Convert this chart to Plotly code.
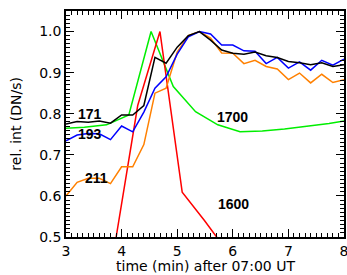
import plotly.graph_objects as go

# 12 s cadence (EUV) times, minutes after 07:00 UT
t_euv = [3.0 + 0.2 * k for k in range(26)]
v171 = [0.775, 0.781, 0.779, 0.782, 0.777, 0.797, 0.797, 0.820, 0.937, 0.923,
        0.962, 0.990, 1.000, 0.979, 0.955, 0.947, 0.945, 0.950, 0.941, 0.937,
        0.927, 0.924, 0.919, 0.924, 0.915, 0.919]
v193 = [0.734, 0.748, 0.752, 0.751, 0.737, 0.770, 0.756, 0.804, 0.862, 0.890,
        0.945, 0.987, 1.000, 0.994, 0.967, 0.967, 0.953, 0.952, 0.922, 0.937,
        0.911, 0.926, 0.906, 0.930, 0.918, 0.933]
v211 = [0.600, 0.633, 0.643, 0.643, 0.630, 0.671, 0.671, 0.725, 0.850, 0.862,
        0.950, 0.990, 1.000, 0.984, 0.948, 0.947, 0.922, 0.930, 0.915, 0.909,
        0.883, 0.899, 0.875, 0.896, 0.876, 0.883]

# 24 s cadence (UV) times
t1700 = [2.93, 3.33, 3.73, 4.13, 4.53, 4.93, 5.33, 5.73, 6.13, 6.53, 6.93, 7.33, 7.73, 8.13]
v1700 = [0.764, 0.767, 0.773, 0.797, 1.000, 0.866, 0.805, 0.773, 0.756, 0.758,
         0.763, 0.769, 0.776, 0.785]
t1600 = [3.89, 4.29, 4.69, 5.09, 5.49, 5.89]
v1600 = [0.490, 0.820, 1.000, 0.609, 0.540, 0.467]

labels = ["171", "193", "211", "1700", "1600"]
label_x = [3.43, 3.43, 3.54, 5.99, 6.01]
label_y = [0.799, 0.751, 0.644, 0.791, 0.581]

x_title = "time (min) after 07:00 UT"
y_title = "rel. int (DN/s)"

fig = go.Figure()
lw = 1.5
fig.add_trace(go.Scatter(x=t1700, y=v1700, mode="lines", line=dict(color="#00ee00", width=lw)))
fig.add_trace(go.Scatter(x=t1600, y=v1600, mode="lines", line=dict(color="#ff0000", width=lw)))
fig.add_trace(go.Scatter(x=t_euv, y=v211, mode="lines", line=dict(color="#ff8000", width=lw)))
fig.add_trace(go.Scatter(x=t_euv, y=v193, mode="lines", line=dict(color="#0000ff", width=lw)))
fig.add_trace(go.Scatter(x=t_euv, y=v171, mode="lines", line=dict(color="#000000", width=lw)))

for lab, lx, ly in zip(labels, label_x, label_y):
    fig.add_annotation(x=lx, y=ly, text="<b>" + lab + "</b>", showarrow=False,
                       font=dict(family="Liberation Sans, Arial", size=14, color="black"))

tick_font = dict(family="DejaVu Sans", size=14, color="black")
title_font = dict(family="DejaVu Sans", size=14, color="black")

fig.add_annotation(xref="paper", yref="paper", x=0.5, y=-0.168, text=x_title,
                   showarrow=False, xanchor="center", yanchor="bottom", borderpad=0,
                   font=title_font)
fig.add_annotation(xref="paper", yref="paper", x=-0.181, y=0.5, text=y_title,
                   showarrow=False, xanchor="center", yanchor="middle", textangle=-90,
                   font=title_font)

fig.update_layout(
    width=347, height=275,
    margin=dict(l=66, r=3, t=11, b=38),
    paper_bgcolor="white", plot_bgcolor="white",
    showlegend=False,
    font=tick_font,
    xaxis=dict(range=[3, 8], dtick=1, tick0=3, showgrid=False, zeroline=False,
               automargin=False, ticklabeloverflow="allow",
               showline=True, linecolor="black", linewidth=1.5, mirror="allticks",
               ticks="inside", ticklen=8, tickwidth=1, tickcolor="black",
               minor=dict(dtick=0.1, ticks="inside", ticklen=4, tickcolor="black", showgrid=False),
               tickfont=tick_font),
    yaxis=dict(range=[0.5, 1.05], dtick=0.1, tick0=0.5, tickformat=".1f", showgrid=False,
               automargin=False, ticklabeloverflow="allow",
               zeroline=False, showline=True, linecolor="black", linewidth=1.5,
               mirror="allticks", ticks="inside", ticklen=8, tickwidth=1, tickcolor="black",
               minor=dict(dtick=0.01, ticks="inside", ticklen=4, tickcolor="black", showgrid=False),
               tickfont=tick_font),
)

# remove the default page margin so the figure fills the window exactly
fig.write_html("out.html", config={"displayModeBar": False},
               post_script="document.body.style.margin='0px';document.body.style.overflow='hidden';")
